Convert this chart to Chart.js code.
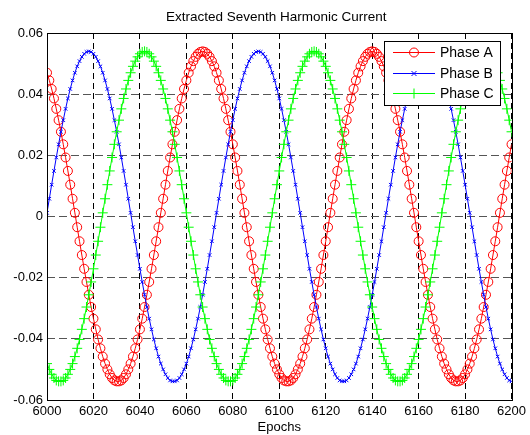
<!DOCTYPE html>
<html>
<head>
<meta charset="utf-8">
<title>Extracted Seventh Harmonic Current</title>
<script src="https://cdn.jsdelivr.net/npm/chart.js@4.4.1/dist/chart.umd.min.js"></script>
<style>
  html, body { margin: 0; padding: 0; background: #fff; }
  #wrap { width: 530px; height: 435px; }
</style>
</head>
<body>
<div id="wrap"><canvas id="harmonic" width="530" height="435"></canvas></div>
<script>
// epochs on the x axis (one sample per epoch)
const epochs = [
  6000,6001,6002,6003,6004,6005,6006,6007,6008,6009,
  6010,6011,6012,6013,6014,6015,6016,6017,6018,6019,
  6020,6021,6022,6023,6024,6025,6026,6027,6028,6029,
  6030,6031,6032,6033,6034,6035,6036,6037,6038,6039,
  6040,6041,6042,6043,6044,6045,6046,6047,6048,6049,
  6050,6051,6052,6053,6054,6055,6056,6057,6058,6059,
  6060,6061,6062,6063,6064,6065,6066,6067,6068,6069,
  6070,6071,6072,6073,6074,6075,6076,6077,6078,6079,
  6080,6081,6082,6083,6084,6085,6086,6087,6088,6089,
  6090,6091,6092,6093,6094,6095,6096,6097,6098,6099,
  6100,6101,6102,6103,6104,6105,6106,6107,6108,6109,
  6110,6111,6112,6113,6114,6115,6116,6117,6118,6119,
  6120,6121,6122,6123,6124,6125,6126,6127,6128,6129,
  6130,6131,6132,6133,6134,6135,6136,6137,6138,6139,
  6140,6141,6142,6143,6144,6145,6146,6147,6148,6149,
  6150,6151,6152,6153,6154,6155,6156,6157,6158,6159,
  6160,6161,6162,6163,6164,6165,6166,6167,6168,6169,
  6170,6171,6172,6173,6174,6175,6176,6177,6178,6179,
  6180,6181,6182,6183,6184,6185,6186,6187,6188,6189,
  6190,6191,6192,6193,6194,6195,6196,6197,6198,6199,
  6200
];

const phaseA = [
  0.047,0.0445,0.0417,0.0386,0.0352,0.0315,0.0277,0.0236,0.0193,0.0149,0.0104,0.0058,0.0012,
  -0.0035,-0.0081,-0.0126,-0.0171,-0.0214,-0.0256,-0.0296,-0.0334,-0.0369,-0.0402,-0.0431,-0.0458,-0.0481,-0.05,-0.0516,-0.0528,-0.0536,-0.0539,
  -0.0539,-0.0536,-0.0528,-0.0516,-0.05,-0.0481,-0.0458,-0.0431,-0.0402,-0.0369,-0.0334,-0.0296,-0.0256,-0.0214,-0.0171,-0.0126,-0.0081,-0.0035,
  0.0012,0.0058,0.0104,0.0149,0.0193,0.0236,0.0277,0.0315,0.0352,0.0386,0.0417,0.0445,0.047,0.0491,0.0508,0.0522,0.0532,0.0538,
  0.054,0.0538,0.0532,0.0522,0.0508,0.0491,0.047,0.0445,0.0417,0.0386,0.0352,0.0315,0.0277,0.0236,0.0193,0.0149,0.0104,0.0058,0.0012,
  -0.0035,-0.0081,-0.0126,-0.0171,-0.0214,-0.0256,-0.0296,-0.0334,-0.0369,-0.0402,-0.0431,-0.0458,-0.0481,-0.05,-0.0516,-0.0528,-0.0536,-0.0539,
  -0.0539,-0.0536,-0.0528,-0.0516,-0.05,-0.0481,-0.0458,-0.0431,-0.0402,-0.0369,-0.0334,-0.0296,-0.0256,-0.0214,-0.0171,-0.0126,-0.0081,-0.0035,
  0.0012,0.0058,0.0104,0.0149,0.0193,0.0236,0.0277,0.0315,0.0352,0.0386,0.0417,0.0445,0.047,0.0491,0.0508,0.0522,0.0532,0.0538,
  0.054,0.0538,0.0532,0.0522,0.0508,0.0491,0.047,0.0445,0.0417,0.0386,0.0352,0.0315,0.0277,0.0236,0.0193,0.0149,0.0104,0.0058,0.0012,
  -0.0035,-0.0081,-0.0126,-0.0171,-0.0214,-0.0256,-0.0296,-0.0334,-0.0369,-0.0402,-0.0431,-0.0458,-0.0481,-0.05,-0.0516,-0.0528,-0.0536,-0.0539,
  -0.0539,-0.0536,-0.0528,-0.0516,-0.05,-0.0481,-0.0458,-0.0431,-0.0402,-0.0369,-0.0334,-0.0296,-0.0256,-0.0214,-0.0171,-0.0126,-0.0081,-0.0035,
  0.0012,0.0058,0.0104,0.0149,0.0193,0.0236
];

const phaseB = [
  0.0012,0.0058,0.0104,0.0149,0.0193,0.0236,0.0277,0.0315,0.0352,0.0386,0.0417,0.0445,0.047,0.0491,0.0508,0.0522,0.0532,0.0538,
  0.054,0.0538,0.0532,0.0522,0.0508,0.0491,0.047,0.0445,0.0417,0.0386,0.0352,0.0315,0.0277,0.0236,0.0193,0.0149,0.0104,0.0058,0.0012,
  -0.0035,-0.0081,-0.0126,-0.0171,-0.0214,-0.0256,-0.0296,-0.0334,-0.0369,-0.0402,-0.0431,-0.0458,-0.0481,-0.05,-0.0516,-0.0528,-0.0536,-0.0539,
  -0.0539,-0.0536,-0.0528,-0.0516,-0.05,-0.0481,-0.0458,-0.0431,-0.0402,-0.0369,-0.0334,-0.0296,-0.0256,-0.0214,-0.0171,-0.0126,-0.0081,-0.0035,
  0.0012,0.0058,0.0104,0.0149,0.0193,0.0236,0.0277,0.0315,0.0352,0.0386,0.0417,0.0445,0.047,0.0491,0.0508,0.0522,0.0532,0.0538,
  0.054,0.0538,0.0532,0.0522,0.0508,0.0491,0.047,0.0445,0.0417,0.0386,0.0352,0.0315,0.0277,0.0236,0.0193,0.0149,0.0104,0.0058,0.0012,
  -0.0035,-0.0081,-0.0126,-0.0171,-0.0214,-0.0256,-0.0296,-0.0334,-0.0369,-0.0402,-0.0431,-0.0458,-0.0481,-0.05,-0.0516,-0.0528,-0.0536,-0.0539,
  -0.0539,-0.0536,-0.0528,-0.0516,-0.05,-0.0481,-0.0458,-0.0431,-0.0402,-0.0369,-0.0334,-0.0296,-0.0256,-0.0214,-0.0171,-0.0126,-0.0081,-0.0035,
  0.0012,0.0058,0.0104,0.0149,0.0193,0.0236,0.0277,0.0315,0.0352,0.0386,0.0417,0.0445,0.047,0.0491,0.0508,0.0522,0.0532,0.0538,
  0.054,0.0538,0.0532,0.0522,0.0508,0.0491,0.047,0.0445,0.0417,0.0386,0.0352,0.0315,0.0277,0.0236,0.0193,0.0149,0.0104,0.0058,0.0012,
  -0.0035,-0.0081,-0.0126,-0.0171,-0.0214,-0.0256,-0.0296,-0.0334,-0.0369,-0.0402,-0.0431,-0.0458,-0.0481,-0.05,-0.0516,-0.0528,-0.0536,-0.0539
];

const phaseC = [
  -0.0481,-0.05,-0.0516,-0.0528,-0.0536,-0.0539,
  -0.0539,-0.0536,-0.0528,-0.0516,-0.05,-0.0481,-0.0458,-0.0431,-0.0402,-0.0369,-0.0334,-0.0296,-0.0256,-0.0214,-0.0171,-0.0126,-0.0081,-0.0035,
  0.0012,0.0058,0.0104,0.0149,0.0193,0.0236,0.0277,0.0315,0.0352,0.0386,0.0417,0.0445,0.047,0.0491,0.0508,0.0522,0.0532,0.0538,
  0.054,0.0538,0.0532,0.0522,0.0508,0.0491,0.047,0.0445,0.0417,0.0386,0.0352,0.0315,0.0277,0.0236,0.0193,0.0149,0.0104,0.0058,0.0012,
  -0.0035,-0.0081,-0.0126,-0.0171,-0.0214,-0.0256,-0.0296,-0.0334,-0.0369,-0.0402,-0.0431,-0.0458,-0.0481,-0.05,-0.0516,-0.0528,-0.0536,-0.0539,
  -0.0539,-0.0536,-0.0528,-0.0516,-0.05,-0.0481,-0.0458,-0.0431,-0.0402,-0.0369,-0.0334,-0.0296,-0.0256,-0.0214,-0.0171,-0.0126,-0.0081,-0.0035,
  0.0012,0.0058,0.0104,0.0149,0.0193,0.0236,0.0277,0.0315,0.0352,0.0386,0.0417,0.0445,0.047,0.0491,0.0508,0.0522,0.0532,0.0538,
  0.054,0.0538,0.0532,0.0522,0.0508,0.0491,0.047,0.0445,0.0417,0.0386,0.0352,0.0315,0.0277,0.0236,0.0193,0.0149,0.0104,0.0058,0.0012,
  -0.0035,-0.0081,-0.0126,-0.0171,-0.0214,-0.0256,-0.0296,-0.0334,-0.0369,-0.0402,-0.0431,-0.0458,-0.0481,-0.05,-0.0516,-0.0528,-0.0536,-0.0539,
  -0.0539,-0.0536,-0.0528,-0.0516,-0.05,-0.0481,-0.0458,-0.0431,-0.0402,-0.0369,-0.0334,-0.0296,-0.0256,-0.0214,-0.0171,-0.0126,-0.0081,-0.0035,
  0.0012,0.0058,0.0104,0.0149,0.0193,0.0236,0.0277,0.0315,0.0352,0.0386,0.0417,0.0445,0.047,0.0491,0.0508,0.0522,0.0532,0.0538,
  0.054,0.0538,0.0532,0.0522,0.0508,0.0491,0.047,0.0445,0.0417,0.0386,0.0352,0.0315,0.0277
];

const seriesNames = ['Phase A', 'Phase B', 'Phase C'];
const seriesColors = ['#ff0000', '#0000ff', '#00ff00'];
const titleText = 'Extracted Seventh Harmonic Current';
const xLabel = 'Epochs';
const xTicks = [6000, 6020, 6040, 6060, 6080, 6100, 6120, 6140, 6160, 6180, 6200];
const yTicks = [-0.06, -0.04, -0.02, 0, 0.02, 0.04, 0.06];

const FONT = '"Liberation Sans", Arial, Helvetica, sans-serif';
Chart.defaults.font.family = FONT;
Chart.defaults.color = '#000';

const pts = (ys) => ys.map((y, i) => ({ x: epochs[i], y }));

function drawMarker(ctx, style, x, y, color) {
  ctx.save();
  ctx.strokeStyle = color;
  ctx.lineWidth = 1;
  ctx.beginPath();
  if (style === 'circle') {
    ctx.arc(x, y, 4.5, 0, Math.PI * 2);
  } else if (style === 'crossRot') {
    const r = 2.5;
    ctx.moveTo(x - r, y - r); ctx.lineTo(x + r, y + r);
    ctx.moveTo(x - r, y + r); ctx.lineTo(x + r, y - r);
  } else {
    const r = 5;
    ctx.moveTo(x - r, y); ctx.lineTo(x + r, y);
    ctx.moveTo(x, y - r); ctx.lineTo(x, y + r);
  }
  ctx.stroke();
  ctx.restore();
}

// matlab-ish frame, title and legend box
const matlabBits = {
  id: 'matlabBits',
  afterDraw(chart) {
    const { ctx, chartArea: a } = chart;
    ctx.save();
    ctx.strokeStyle = '#000';
    ctx.lineWidth = 1;
    ctx.strokeRect(Math.round(a.left) + 0.5, Math.round(a.top) + 0.5,
      Math.round(a.right - a.left), Math.round(a.bottom - a.top));

    ctx.fillStyle = '#000';
    ctx.font = '13.5px ' + FONT;
    ctx.textAlign = 'center';
    ctx.textBaseline = 'middle';
    ctx.fillText(titleText, (a.left + a.right) / 2 - 3, 17);

    // legend
    const bx = 384, by = 41, bw = 116, bh = 64;
    ctx.fillStyle = '#fff';
    ctx.fillRect(bx, by, bw, bh);
    ctx.strokeRect(bx + 0.5, by + 0.5, bw, bh);
    const rows = [52, 73, 93];
    const styles = ['circle', 'crossRot', 'cross'];
    ctx.font = '14px ' + FONT;
    ctx.textAlign = 'left';
    rows.forEach((ry, i) => {
      ctx.strokeStyle = seriesColors[i];
      ctx.beginPath();
      ctx.moveTo(393, ry + 0.5); ctx.lineTo(435, ry + 0.5);
      ctx.stroke();
      drawMarker(ctx, styles[i], 414, ry + 0.5, seriesColors[i]);
      ctx.fillStyle = '#000';
      ctx.fillText(seriesNames[i], 440, ry + 1);
    });
    ctx.restore();
  }
};

new Chart(document.getElementById('harmonic'), {
  type: 'line',
  data: {
    datasets: [
      { label: seriesNames[0], data: pts(phaseA), borderColor: seriesColors[0], backgroundColor: 'rgba(0,0,0,0)',
        pointStyle: 'circle', pointRadius: 4.5, pointBorderColor: seriesColors[0], pointBorderWidth: 1, order: 3, clip: 0 },
      { label: seriesNames[1], data: pts(phaseB), borderColor: seriesColors[1], backgroundColor: 'rgba(0,0,0,0)',
        pointStyle: 'crossRot', pointRadius: 2.5, pointBorderColor: seriesColors[1], pointBorderWidth: 1, order: 2, clip: 0 },
      { label: seriesNames[2], data: pts(phaseC), borderColor: seriesColors[2], backgroundColor: 'rgba(0,0,0,0)',
        pointStyle: 'cross', pointRadius: 5, pointBorderColor: seriesColors[2], pointBorderWidth: 1, order: 1, clip: 0 }
    ]
  },
  options: {
    responsive: false,
    animation: false,
    events: [],
    layout: { padding: { top: 33, right: 18, left: 0, bottom: 0 } },
    elements: { line: { borderWidth: 1, tension: 0, fill: false } },
    plugins: { legend: { display: false }, title: { display: false }, tooltip: { enabled: false } },
    scales: {
      x: {
        type: 'linear', min: 6000, max: 6200,
        afterFit: (s) => { s.height = 35; },
        afterBuildTicks: (s) => { s.ticks = xTicks.map(v => ({ value: v })); },
        ticks: { padding: 4, font: { size: 13 }, maxRotation: 0, autoSkip: false, callback: (v) => String(v) },
        grid: { color: '#000', lineWidth: 1, drawTicks: false },
        border: { display: false, dash: [6, 4] },
        title: { display: true, text: xLabel, font: { size: 13 }, padding: { top: 0, bottom: 0 } }
      },
      y: {
        min: -0.06, max: 0.06,
        afterFit: (s) => { s.width = 47; },
        afterBuildTicks: (s) => { s.ticks = yTicks.map(v => ({ value: v })); },
        ticks: { padding: 4, font: { size: 13 }, autoSkip: false,
          callback: (v) => Math.abs(v) < 1e-9 ? '0' : v.toFixed(2) },
        grid: { color: '#555', lineWidth: 1, drawTicks: false },
        border: { display: false, dash: [8, 4] }
      }
    }
  },
  plugins: [matlabBits]
});
</script>
</body>
</html>
